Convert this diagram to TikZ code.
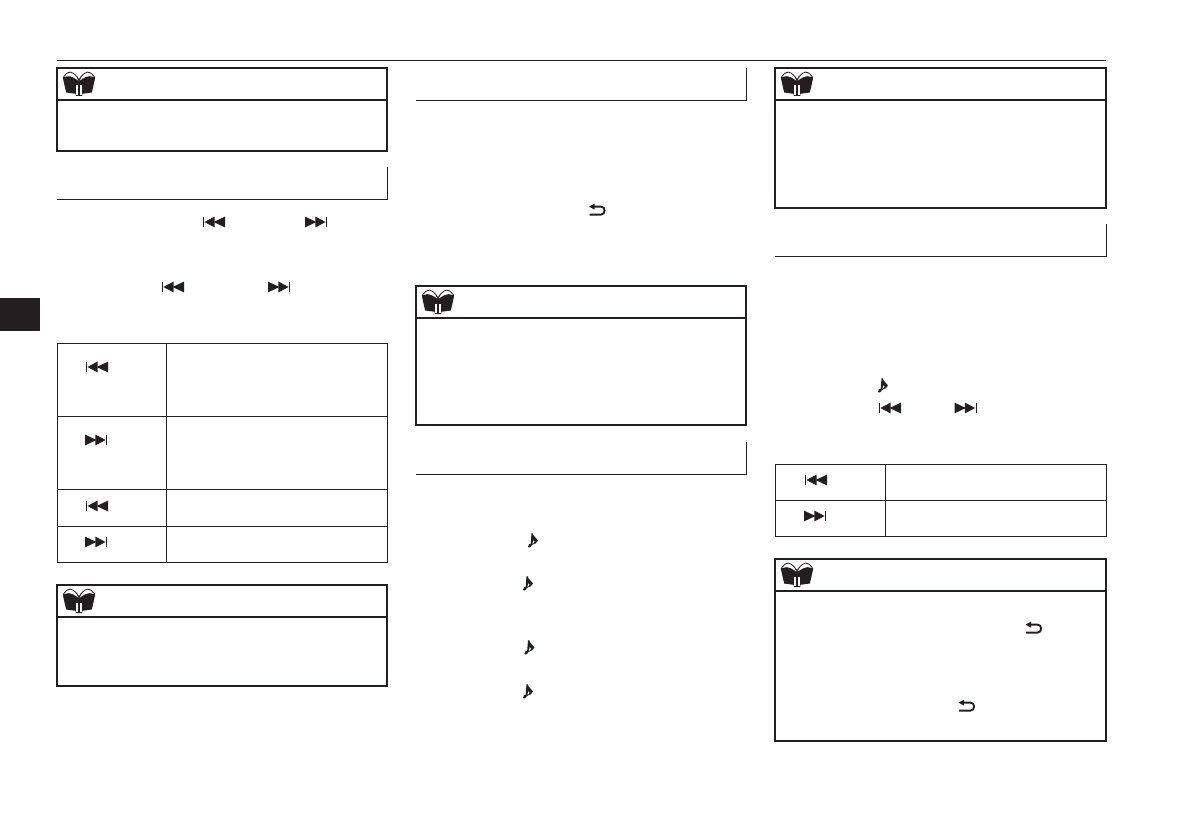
\documentclass[tikz,border=0pt]{standalone}
\definecolor{ink}{HTML}{231F20}
\tikzset{
  x=1pt,y=-1pt,
  notebox/.style={draw=ink,line width=2pt,fill=white},
  divider/.style={draw=ink,line width=2pt},
  headline/.style={draw=ink,line width=0.9pt},
  rule/.style={draw=ink,line width=0.9pt},
  tablegrid/.style={draw=ink,line width=0.9pt},
  bookicon/.pic={
    \fill[ink] (-16.2,-6.5) .. controls (-14,-10.5) and (-11,-12.3) .. (-8.5,-12.3)
      .. controls (-5,-11.5) and (-2,-8.5) .. (0,-5)
      .. controls (2,-8.5) and (5,-11.5) .. (8.5,-12.3)
      .. controls (11,-12.3) and (14,-10.5) .. (16.2,-6.5)
      .. controls (15,-1) and (14,4) .. (12.8,8.5)
      -- (3.4,9.8) -- (3.2,12) -- (-3.2,12) -- (-3.4,9.8) -- (-12.8,8.5)
      .. controls (-14,4) and (-15,-1) .. cycle;
    \fill[white] (-14.8,-7) .. controls (-13,-9.8) and (-10.8,-11.4) .. (-8.5,-11.4)
      .. controls (-5.5,-10.6) and (-2.4,-7.8) .. (-0.7,-3.4)
      .. controls (-3,-5) and (-9,-10) .. (-14.8,-7) -- cycle;
    \fill[white] (14.8,-7) .. controls (13,-9.8) and (10.8,-11.4) .. (8.5,-11.4)
      .. controls (5.5,-10.6) and (2.4,-7.8) .. (0.7,-3.4)
      .. controls (3,-5) and (9,-10) .. (14.8,-7) -- cycle;
    \fill[white] (-3,1.5) rectangle (-0.6,11.2);
    \fill[white] (0.6,1.5) rectangle (3,11.2);
  },
  prevtrack/.pic={
    \fill[ink] (-11.3,-5) rectangle (-10,5);
    \fill[ink] (-9.6,0) -- (0.6,-5.4) -- (0.6,5.4) -- cycle;
    \fill[ink] (-0.4,0) -- (11,-5.4) -- (11,5.4) -- cycle;
  },
  nexttrack/.pic={
    \fill[ink] (10,-5) rectangle (11.3,5);
    \fill[ink] (9.6,0) -- (-0.6,-5.4) -- (-0.6,5.4) -- cycle;
    \fill[ink] (0.4,0) -- (-11,-5.4) -- (-11,5.4) -- cycle;
  },
  returnarrow/.pic={
    \fill[ink] (-8.5,-3.4) -- (-3,-6.4) -- (-3,-0.4) -- cycle;
    \draw[ink,line width=1.9pt] (-3.5,-3.4) -- (3.5,-3.4) .. controls (8.3,-3.4) and (8.3,4.6) .. (3.5,4.6) -- (-8,4.6);
  },
  musicnote/.pic={
    \fill[ink] (-5,5.6) .. controls (-5.4,3.6) and (-3,2.2) .. (-1.2,2.8)
       .. controls (-0.8,5.6) and (-4.2,8) .. (-5,5.6) -- cycle;
    \fill[ink] (-2.4,4) -- (-1.5,-7.6) -- (0.2,-7.6) -- (-0.4,4) -- cycle;
    \fill[ink] (-1,-7.6) .. controls (0.5,-5) and (3.2,-3) .. (5,-0.6)
       .. controls (4,1.8) and (2,3.2) .. (-0.8,3.8)
       .. controls (0.8,2.2) and (1.4,1) .. (1.6,0)
       .. controls (1,-0.6) and (0,-0.8) .. (-1,-1) -- cycle;
  },
}
\begin{document}
\begin{tikzpicture}
  \useasboundingbox (0,0) rectangle (1191,834);
  \fill[white] (0,0) rectangle (1191,834);

  % top rule and side tab
  \draw[rule] (57,60.5) -- (1106,60.5);
  \fill[ink] (0,298) rectangle (40,331);

  % note boxes
  \draw[notebox] (57,68) rectangle (387,151);
  \draw[divider] (57,100) -- (387,100);
  \pic at (79,84) {bookicon};

  \draw[notebox] (57,585) rectangle (387,686);
  \draw[divider] (57,617) -- (387,617);
  \pic at (79,601) {bookicon};

  \draw[notebox] (416,286) rectangle (746,425);
  \draw[divider] (416,318) -- (746,318);
  \pic at (438,302) {bookicon};

  \draw[notebox] (775,68) rectangle (1106,208);
  \draw[divider] (775,100) -- (1106,100);
  \pic at (797,84) {bookicon};

  \draw[notebox] (775,559) rectangle (1106,741);
  \draw[divider] (775,591) -- (1106,591);
  \pic at (797,575) {bookicon};

  % section headings
  \draw[headline] (57,199) -- (387,199) -- (387,167);
  \draw[headline] (416,100) -- (746,100) -- (746,68);
  \draw[headline] (416,474) -- (746,474) -- (746,442);
  \draw[headline] (775,256) -- (1106,256) -- (1106,224);

  % table, left column
  \draw[tablegrid] (57,343) rectangle (387,562);
  \draw[tablegrid] (166,343) -- (166,562);
  \draw[tablegrid] (57,416) -- (387,416);
  \draw[tablegrid] (57,489) -- (387,489);
  \draw[tablegrid] (57,526) -- (387,526);
  \pic at (97,367) {prevtrack};
  \pic at (96,440) {nexttrack};
  \pic at (97,506) {prevtrack};
  \pic at (96,542) {nexttrack};

  % table, right column
  \draw[tablegrid] (775,464) rectangle (1106,536);
  \draw[tablegrid] (885,464) -- (885,536);
  \draw[tablegrid] (775,500) -- (1106,500);
  \pic at (816,480) {prevtrack};
  \pic at (815,516) {nexttrack};

  % inline symbols
  \pic at (214,222) {prevtrack};
  \pic at (316,222) {nexttrack};
  \pic at (173,287) {prevtrack};
  \pic at (279,287) {nexttrack};
  \pic at (890,408) {prevtrack};
  \pic at (965.5,408) {nexttrack};

  \pic at (597.5,210) {returnarrow};
  \pic at (1034,628) {returnarrow};
  \pic at (967,706) {returnarrow};

  \pic at (533,541) {musicnote};
  \pic at (528,584) {musicnote};
  \pic at (529.5,648) {musicnote};
  \pic at (528,692) {musicnote};
  \pic at (883,386) {musicnote};
\end{tikzpicture}
\end{document}
